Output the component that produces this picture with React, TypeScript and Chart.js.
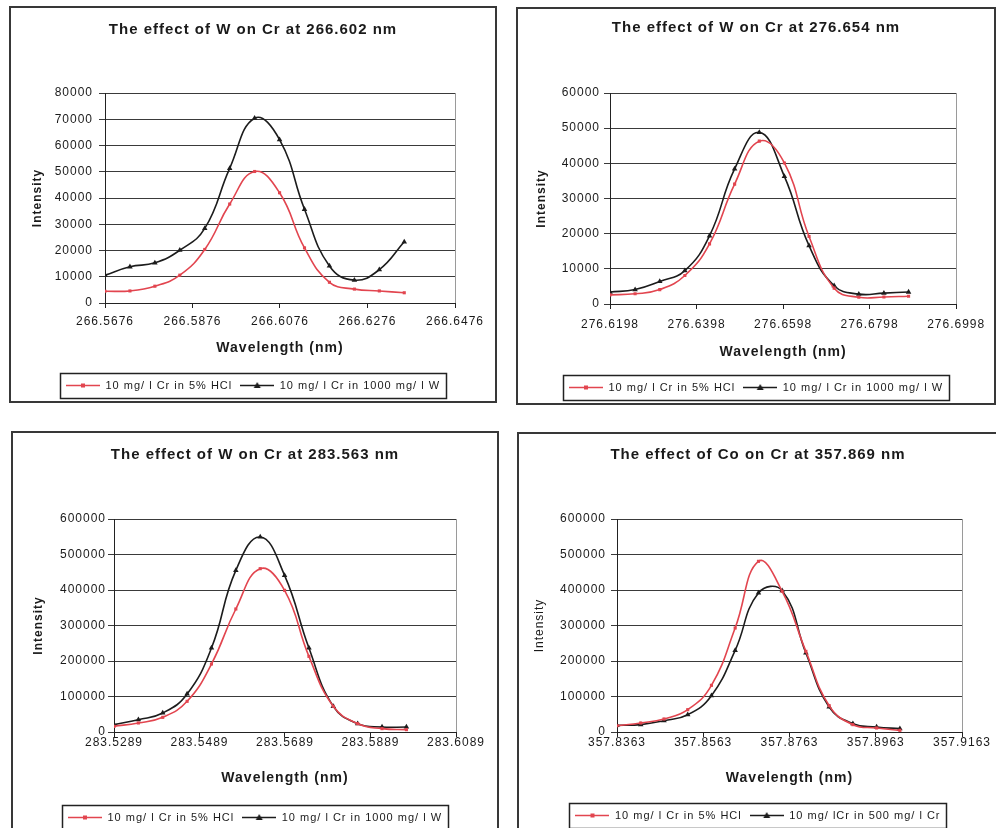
import React, { useEffect, useRef } from 'react';
import { Chart, registerables } from 'chart.js';

Chart.register(...registerables);

// ---------- Data ----------
// Chart 1: effect of W on Cr at 266.602 nm
const wl1 = [266.5676, 266.5733, 266.5790, 266.5847, 266.5904, 266.5961, 266.6018, 266.6075, 266.6132, 266.6189, 266.6246, 266.6303, 266.6360];
const hcl1 = [4500, 4600, 6400, 10600, 20400, 37700, 50100, 42000, 21000, 7900, 5300, 4600, 3900];
const w1 = [10600, 13800, 15300, 20100, 28400, 51300, 70400, 62200, 35700, 14100, 8700, 12700, 23300];
const xTicks1 = [266.5676, 266.5876, 266.6076, 266.6276, 266.6476];

// Chart 2: effect of W on Cr at 276.654 nm
const wl2 = [276.6198, 276.6256, 276.6313, 276.6371, 276.6428, 276.6486, 276.6543, 276.6601, 276.6658, 276.6716, 276.6773, 276.6831, 276.6888];
const hcl2 = [2600, 2900, 4100, 8100, 17100, 34100, 46300, 40100, 19200, 4500, 1900, 2000, 2200];
const w2 = [3400, 4100, 6400, 9500, 19400, 38400, 48800, 36300, 16600, 5200, 2800, 3100, 3400];
const xTicks2 = [276.6198, 276.6398, 276.6598, 276.6798, 276.6998];

// Chart 3: effect of W on Cr at 283.563 nm
const wl3 = [283.5289, 283.5346, 283.5403, 283.5460, 283.5517, 283.5574, 283.5631, 283.5688, 283.5745, 283.5802, 283.5859, 283.5916, 283.5973];
const hcl3 = [16000, 25400, 41300, 86400, 191500, 346500, 460100, 399100, 213100, 72300, 23500, 9400, 6600];
const w3 = [20700, 34700, 53500, 107000, 236600, 455400, 549300, 441300, 236600, 72300, 23500, 14100, 14100];
const xTicks3 = [283.5289, 283.5489, 283.5689, 283.5889, 283.6089];

// Chart 4: effect of Co on Cr at 357.869 nm
const wl4 = [357.8363, 357.8418, 357.8472, 357.8527, 357.8582, 357.8637, 357.8691, 357.8746, 357.8801, 357.8855, 357.8910, 357.8965, 357.9019];
const hcl4 = [17800, 25400, 36600, 62900, 131500, 293000, 480800, 396200, 227200, 74200, 20700, 11300, 4700];
const co4 = [18800, 20700, 31900, 48800, 102300, 230000, 391500, 398100, 222500, 70400, 23500, 14100, 9400];
const xTicks4 = [357.8363, 357.8563, 357.8763, 357.8963, 357.9163];

const titles = [
  'The effect of W on Cr at 266.602 nm',
  'The effect of W on Cr at 276.654 nm',
  'The effect of W on Cr at 283.563 nm',
  'The effect of Co on Cr at 357.869 nm',
];
const labelHCl = '10 mg/ l Cr in 5% HCl';
const labelW = '10 mg/ l Cr in 1000 mg/ l W';
const labelCo = '10 mg/ lCr in 500 mg/ l Cr';

// ---------- Styles ----------
const FONT = "'Liberation Sans', Arial, sans-serif";
const RED = '#e2454f';
const DARK = '#1c1c1c';
const TEXT = '#1a1a1a';

function legendIcon(color: string, shape: string) {
  const c = document.createElement('canvas');
  c.width = 34;
  c.height = 9;
  const g = c.getContext('2d') as CanvasRenderingContext2D;
  g.strokeStyle = color;
  g.lineWidth = 1.5;
  g.beginPath();
  g.moveTo(0, 4.5);
  g.lineTo(34, 4.5);
  g.stroke();
  g.fillStyle = color;
  if (shape === 'triangle') {
    g.beginPath();
    g.moveTo(17, 1);
    g.lineTo(20.5, 7);
    g.lineTo(13.5, 7);
    g.closePath();
    g.fill();
  } else {
    g.fillRect(15, 2.5, 4, 4);
  }
  return c;
}

const spacingPlugin = {
  id: 'letterSpacing',
  beforeUpdate(c: any) { c.ctx.letterSpacing = '1px'; },
  beforeDraw(c: any) { c.ctx.letterSpacing = '1px'; },
};

const decoPlugin = {
  id: 'deco',
  beforeDatasetsDraw(c: any) {
    const { ctx, chartArea: a } = c;
    ctx.save();
    ctx.strokeStyle = '#9a9a9a';
    ctx.lineWidth = 1;
    ctx.beginPath();
    ctx.moveTo(Math.round(a.right) + 0.5, a.top);
    ctx.lineTo(Math.round(a.right) + 0.5, a.bottom);
    ctx.stroke();
    ctx.restore();
  },
  afterDraw(c: any) {
    const lg = c.legend;
    if (!lg || !lg.legendHitBoxes || !lg.legendHitBoxes.length) return;
    let l = Infinity, r = -Infinity, t = Infinity, b = -Infinity;
    lg.legendHitBoxes.forEach((h: any) => {
      l = Math.min(l, h.left);
      r = Math.max(r, h.left + h.width);
      t = Math.min(t, h.top);
      b = Math.max(b, h.top + h.height);
    });
    const ctx = c.ctx;
    ctx.save();
    ctx.strokeStyle = '#222';
    ctx.lineWidth = 1.5;
    ctx.strokeRect(Math.round(l - 6) + 0.5, Math.round(t - 7) + 0.5, Math.round(r - l + 12), Math.round(b - t + 14));
    ctx.restore();
  },
};

type Layout = {
  w: number; h: number;
  plotTop: number; plotBottom: number; plotLeft: number; plotRight: number;
  titleY: number; xTickY: number; xTitleY: number; yTitleX: number; yLabelRight: number;
  yTitleBold: boolean;
};

type Cfg = {
  title: string;
  x: number[];
  s1: number[];
  s2: number[];
  l1: string;
  l2: string;
  xTicks: number[];
  yMax: number;
  yStep: number;
  layout: Layout;
};

function SpectrumChart({ cfg }: { cfg: Cfg }) {
  const ref = useRef<HTMLCanvasElement>(null);
  useEffect(() => {
    const L = cfg.layout;
    const pad = 4;
    const legendH = 29;
    const legendTop = L.h - legendH;
    const icons = [legendIcon(RED, 'rect'), legendIcon(DARK, 'triangle')];
    const chart = new Chart(ref.current as HTMLCanvasElement, {
      type: 'line',
      data: {
        datasets: [
          {
            label: cfg.l1,
            data: cfg.x.map((x, i) => ({ x, y: cfg.s1[i] })),
            borderColor: RED,
            backgroundColor: RED,
            borderWidth: 1.6,
            pointStyle: 'rect',
            pointRadius: 2.2,
            pointBorderWidth: 0,
            tension: 0.45,
            fill: false,
          },
          {
            label: cfg.l2,
            data: cfg.x.map((x, i) => ({ x, y: cfg.s2[i] })),
            borderColor: DARK,
            backgroundColor: DARK,
            borderWidth: 1.6,
            pointStyle: 'triangle',
            pointRadius: 3.2,
            pointBorderWidth: 0,
            tension: 0.45,
            fill: false,
          },
        ],
      },
      options: {
        responsive: false,
        animation: false,
        devicePixelRatio: 1,
        events: [],
        layout: { padding: { top: 0, left: pad, right: pad, bottom: 0 } },
        plugins: {
          title: {
            display: true,
            text: cfg.title,
            color: TEXT,
            font: { family: FONT, size: 15, weight: 'bold', lineHeight: 1.2 },
            padding: { top: L.titleY - 9, bottom: L.plotTop - L.titleY - 9 },
          },
          legend: {
            position: 'bottom',
            labels: {
              usePointStyle: true,
              pointStyleWidth: 34,
              padding: 8,
              color: TEXT,
              font: { family: FONT, size: 11 },
              generateLabels: (ch: any) =>
                ch.data.datasets.map((ds: any, i: number) => ({
                  text: ds.label,
                  pointStyle: icons[i],
                  fillStyle: ds.borderColor,
                  strokeStyle: ds.borderColor,
                  lineWidth: 0,
                  hidden: false,
                  datasetIndex: i,
                  fontColor: TEXT,
                })),
            },
          },
          tooltip: { enabled: false },
        },
        scales: {
          x: {
            type: 'linear',
            min: cfg.xTicks[0],
            max: cfg.xTicks[cfg.xTicks.length - 1],
            afterBuildTicks: (s: any) => { s.ticks = cfg.xTicks.map((v) => ({ value: v })); },
            afterFit: (s: any) => { s.height = legendTop - L.plotBottom; },
            ticks: {
              autoSkip: false,
              maxRotation: 0,
              padding: L.xTickY - L.plotBottom - 5 - 7.2,
              color: TEXT,
              font: { family: FONT, size: 12 },
              callback: (v: any) => Number(v).toFixed(4),
            },
            grid: { drawOnChartArea: false, drawTicks: true, tickLength: 5, color: '#222' },
            border: { display: true, color: '#222', width: 1 },
            title: {
              display: true,
              text: 'Wavelength (nm)',
              color: TEXT,
              font: { family: FONT, size: 14, weight: 'bold', lineHeight: 1.2 },
              padding: { top: 0, bottom: legendTop - L.xTitleY - 8.4 },
            },
          },
          y: {
            position: 'left',
            min: 0,
            max: cfg.yMax,
            afterFit: (s: any) => { s.width = L.plotLeft - pad; },
            ticks: {
              stepSize: cfg.yStep,
              padding: L.plotLeft - 6 - L.yLabelRight,
              color: TEXT,
              font: { family: FONT, size: 12 },
              callback: (v: any) => String(v),
            },
            grid: { color: '#3a3a3a', lineWidth: 1, drawTicks: true, tickLength: 6 },
            border: { display: true, color: '#222', width: 1 },
            title: {
              display: true,
              text: 'Intensity',
              color: TEXT,
              font: { family: FONT, size: 12, weight: L.yTitleBold ? 'bold' : 'normal', lineHeight: 1.2 },
              padding: { top: L.yTitleX - pad - 7.2, bottom: 0 },
            },
          },
          yRight: {
            type: 'linear',
            position: 'right',
            display: true,
            min: 0,
            max: 1,
            afterFit: (s: any) => { s.width = L.w - pad - L.plotRight; },
            ticks: { display: false },
            grid: { display: false },
            border: { display: false },
            title: { display: false },
          },
        },
      } as any,
      plugins: [spacingPlugin, decoPlugin],
    });
    return () => chart.destroy();
  }, [cfg]);
  return <canvas ref={ref} width={cfg.layout.w} height={cfg.layout.h} style={{ display: 'block' }} />;
}

const charts: { frame: { left: number; top: number; width: number; height: number }; cfg: Cfg }[] = [
  {
    frame: { left: 9, top: 6, width: 488, height: 397 },
    cfg: {
      title: titles[0], x: wl1, s1: hcl1, s2: w1, l1: labelHCl, l2: labelW, xTicks: xTicks1, yMax: 80000, yStep: 10000,
      layout: { w: 484, h: 393, plotTop: 85, plotBottom: 295, plotLeft: 94, plotRight: 444, titleY: 22, xTickY: 314, xTitleY: 340, yTitleX: 27, yLabelRight: 82, yTitleBold: true },
    },
  },
  {
    frame: { left: 516, top: 7, width: 480, height: 398 },
    cfg: {
      title: titles[1], x: wl2, s1: hcl2, s2: w2, l1: labelHCl, l2: labelW, xTicks: xTicks2, yMax: 60000, yStep: 10000,
      layout: { w: 476, h: 394, plotTop: 84, plotBottom: 295, plotLeft: 92, plotRight: 442, titleY: 19, xTickY: 316, xTitleY: 343, yTitleX: 24, yLabelRight: 82, yTitleBold: true },
    },
  },
  {
    frame: { left: 11, top: 431, width: 488, height: 404 },
    cfg: {
      title: titles[2], x: wl3, s1: hcl3, s2: w3, l1: labelHCl, l2: labelW, xTicks: xTicks3, yMax: 600000, yStep: 100000,
      layout: { w: 484, h: 400, plotTop: 86, plotBottom: 299, plotLeft: 101, plotRight: 443, titleY: 22, xTickY: 310, xTitleY: 345, yTitleX: 26, yLabelRight: 93, yTitleBold: true },
    },
  },
  {
    frame: { left: 517, top: 432, width: 482, height: 401 },
    cfg: {
      title: titles[3], x: wl4, s1: hcl4, s2: co4, l1: labelHCl, l2: labelCo, xTicks: xTicks4, yMax: 600000, yStep: 100000,
      layout: { w: 478, h: 397, plotTop: 85, plotBottom: 298, plotLeft: 98, plotRight: 443, titleY: 21, xTickY: 309, xTitleY: 344, yTitleX: 21, yLabelRight: 87, yTitleBold: false },
    },
  },
];

export default function App() {
  return (
    <div style={{ position: 'fixed', left: 0, top: 0, width: 996, height: 828, overflow: 'hidden', background: '#fff' }}>
      {charts.map((c, i) => (
        <div
          key={i}
          style={{
            position: 'absolute',
            left: c.frame.left,
            top: c.frame.top,
            width: c.frame.width,
            height: c.frame.height,
            boxSizing: 'border-box',
            border: '2px solid #383838',
            background: '#fff',
          }}
        >
          <SpectrumChart cfg={c.cfg} />
        </div>
      ))}
    </div>
  );
}
